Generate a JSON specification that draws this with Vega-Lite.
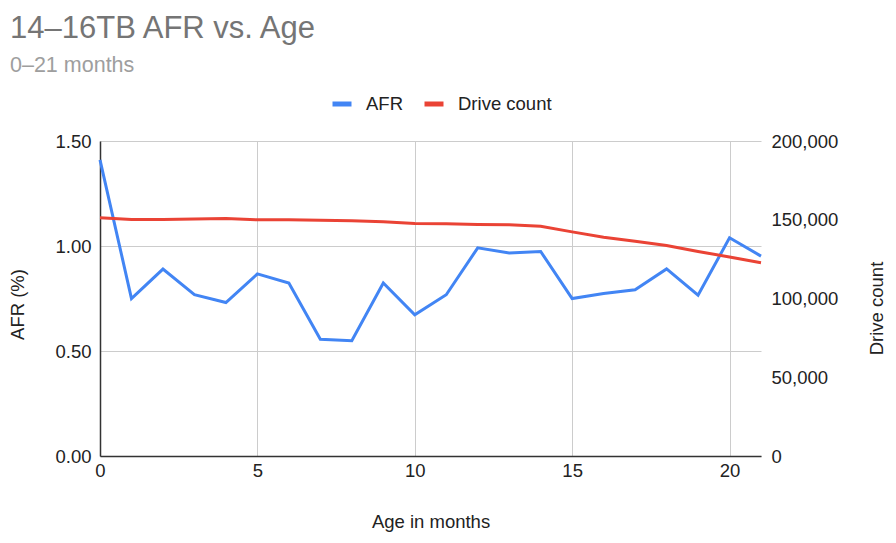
{
  "$schema": "https://vega.github.io/schema/vega-lite/v6.json",
  "autosize": {"type": "none"},
  "width": 661,
  "height": 315,
  "padding": {"left": 100, "top": 141, "right": 135, "bottom": 87},
  "background": "white",
  "title": {
    "text": "14–16TB AFR vs. Age",
    "subtitle": "0–21 months",
    "anchor": "start",
    "frame": "group",
    "dx": -90,
    "offset": 15,
    "font": "Liberation Sans",
    "fontSize": 31,
    "fontWeight": "normal",
    "color": "#757575",
    "subtitleFont": "Liberation Sans",
    "subtitleFontSize": 21.5,
    "subtitleColor": "#9e9e9e",
    "subtitlePadding": 10
  },
  "data": {
    "values": [
      {"age": 0, "afr": 1.41, "drives": 151250},
      {"age": 1, "afr": 0.75, "drives": 150160},
      {"age": 2, "afr": 0.89, "drives": 150200},
      {"age": 3, "afr": 0.768, "drives": 150500},
      {"age": 4, "afr": 0.731, "drives": 150800},
      {"age": 5, "afr": 0.867, "drives": 149970},
      {"age": 6, "afr": 0.824, "drives": 150000},
      {"age": 7, "afr": 0.556, "drives": 149700},
      {"age": 8, "afr": 0.549, "drives": 149300},
      {"age": 9, "afr": 0.824, "drives": 148700},
      {"age": 10, "afr": 0.672, "drives": 147600},
      {"age": 11, "afr": 0.768, "drives": 147400},
      {"age": 12, "afr": 0.991, "drives": 147000},
      {"age": 13, "afr": 0.967, "drives": 146800},
      {"age": 14, "afr": 0.974, "drives": 145900},
      {"age": 15, "afr": 0.75, "drives": 142300},
      {"age": 16, "afr": 0.774, "drives": 138900},
      {"age": 17, "afr": 0.792, "drives": 136300},
      {"age": 18, "afr": 0.891, "drives": 133700},
      {"age": 19, "afr": 0.766, "drives": 129900},
      {"age": 20, "afr": 1.039, "drives": 126300},
      {"age": 21, "afr": 0.952, "drives": 122700}
    ]
  },
  "encoding": {
    "x": {
      "field": "age",
      "type": "quantitative",
      "scale": {"domain": [0, 21], "nice": false, "zero": false},
      "axis": {
        "title": "Age in months",
        "values": [0, 5, 10, 15, 20],
        "labelFlush": false,
        "titlePadding": 33,
        "labelPadding": 5,
        "domain": true,
        "domainColor": "#333333",
        "domainWidth": 1.5
      }
    }
  },
  "layer": [
    {
      "mark": {"type": "line", "strokeWidth": 3, "interpolate": "linear"},
      "encoding": {
        "y": {
          "field": "afr",
          "type": "quantitative",
          "scale": {"domain": [0, 1.5], "nice": false},
          "axis": {
            "title": "AFR (%)",
            "orient": "left",
            "values": [0, 0.5, 1, 1.5],
            "format": ".2f",
            "labelPadding": 9,
            "titleX": -83,
            "titleY": 163,
            "titleAngle": -90,
            "titleBaseline": "middle",
            "titleAlign": "center",
            "domain": true,
            "domainColor": "#333333",
            "domainWidth": 1.5
          }
        },
        "color": {"datum": "AFR"}
      }
    },
    {
      "mark": {"type": "line", "strokeWidth": 3, "interpolate": "linear"},
      "encoding": {
        "y": {
          "field": "drives",
          "type": "quantitative",
          "scale": {"domain": [0, 200000], "nice": false},
          "axis": {
            "title": "Drive count",
            "orient": "right",
            "values": [0, 50000, 100000, 150000, 200000],
            "format": ",.0f",
            "labelPadding": 10,
            "grid": false,
            "titleX": 115,
            "titleY": 167,
            "titleAngle": -90,
            "titleBaseline": "middle",
            "titleAlign": "center",
            "domain": false
          }
        },
        "color": {"datum": "Drive count"}
      }
    }
  ],
  "resolve": {"scale": {"y": "independent"}},
  "config": {
    "view": {"stroke": null},
    "font": "Liberation Sans",
    "axis": {
      "labelFont": "Liberation Sans",
      "labelFontSize": 18.5,
      "labelColor": "#222222",
      "titleFont": "Liberation Sans",
      "titleFontSize": 18.5,
      "titleFontWeight": "normal",
      "titleColor": "#222222",
      "ticks": false,
      "grid": true,
      "gridColor": "#cccccc",
      "gridWidth": 1
    },
    "range": {"category": ["#4285F4", "#EA4335"]},
    "legend": {
      "orient": "none",
      "legendX": 230,
      "legendY": -49,
      "direction": "horizontal",
      "title": null,
      "labelFont": "Liberation Sans",
      "labelFontSize": 18.5,
      "labelColor": "#222222",
      "symbolType": "stroke",
      "symbolStrokeWidth": 5,
      "symbolSize": 361,
      "columnPadding": 11,
      "labelOffset": 12
    }
  }
}
